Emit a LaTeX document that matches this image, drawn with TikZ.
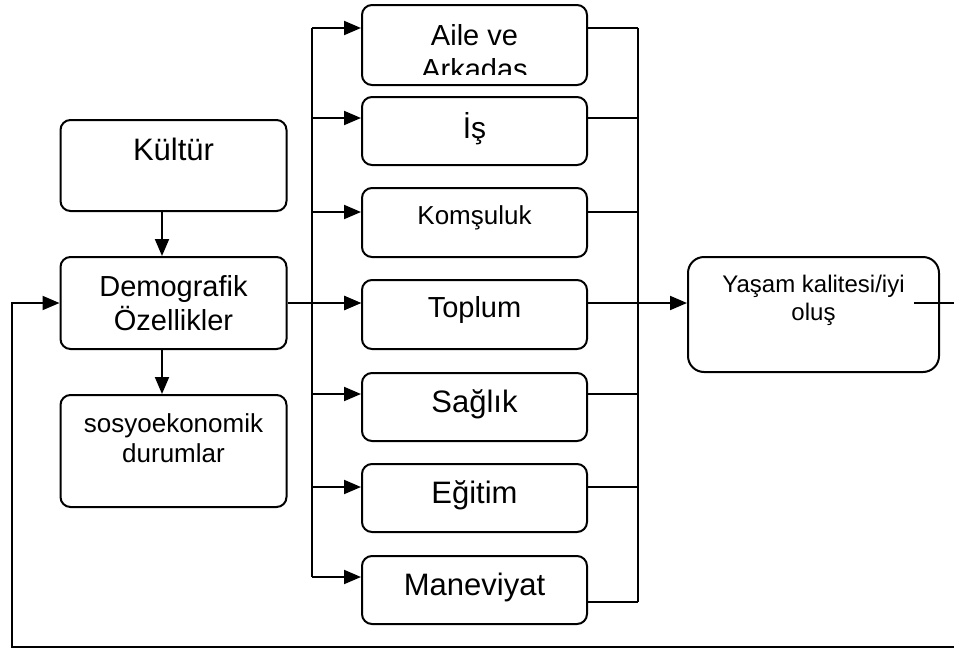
\documentclass[tikz,border=0pt]{standalone}
\usepackage{fontspec}
\setmainfont{Liberation Sans}
\usetikzlibrary{arrows.meta,calc}
\tikzset{
  box/.style={draw, line width=2pt, rounded corners=10pt, inner sep=0pt, align=center},
  line/.style={line width=2pt},
  arr/.style={line width=2pt, -{Triangle[length=17pt,width=14pt]}}
}
\begin{document}
\begin{tikzpicture}[x=1pt,y=-1pt]
\useasboundingbox (0,0) rectangle (954,651);
% left column
\node[box, minimum width=226pt, minimum height=91pt, text height=0pt, text depth=11pt, font=\fontsize{31}{34}\selectfont] (kultur) at (173.5,165.5) {Kültür};
\node[box, minimum width=226pt, minimum height=92pt, text height=54pt, text depth=0pt, font=\fontsize{29}{34}\selectfont] (demo) at (173.5,303) {Demografik\\Özellikler};
\node[box, minimum width=226pt, minimum height=112pt, text height=22pt, text depth=0pt, font=\fontsize{26}{30}\selectfont] (sosyo) at (173.5,451) {sosyoekonomik\\durumlar};
% middle column
\node[box, minimum width=225pt, minimum height=80pt, text height=68pt, text depth=0pt, font=\fontsize{29}{34}\selectfont] (aile) at (474.5,45) {Aile ve\\Arkadas};
\fill[white] (415,75) rectangle (535,83.5);
\node[box, minimum width=225pt, minimum height=68pt, text height=14pt, text depth=0pt, font=\fontsize{30}{34}\selectfont] (is) at (474.5,131) {İş};
\node[box, minimum width=225pt, minimum height=69pt, text height=3pt, text depth=0pt, font=\fontsize{26}{30}\selectfont] (kom) at (474.5,222.5) {Komşuluk};
\node[box, minimum width=225pt, minimum height=69pt, text height=5pt, text depth=0pt, font=\fontsize{29}{34}\selectfont] (top) at (474.5,314.5) {Toplum};
\node[box, minimum width=225pt, minimum height=68pt, text height=10pt, text depth=0pt, font=\fontsize{31}{34}\selectfont] (sag) at (474.5,407) {Sağlık};
\node[box, minimum width=225pt, minimum height=68pt, text height=10pt, text depth=0pt, font=\fontsize{31}{34}\selectfont] (egi) at (474.5,498) {Eğitim};
\node[box, minimum width=225pt, minimum height=68pt, text height=10pt, text depth=0pt, font=\fontsize{31}{34}\selectfont] (man) at (474.5,590) {Maneviyat};
% right box
\node[box, rounded corners=16pt, minimum width=251pt, minimum height=115pt, text height=11pt, text depth=0pt, font=\fontsize{24}{28}\selectfont] (yasam) at (813.5,314.5) {Yaşam kalitesi/iyi\\oluş};
% vertical arrows
\coordinate (ax) at (162,0);
\draw[arr] (kultur.south -| ax) -- (demo.north -| ax);
\draw[arr] (demo.south -| ax) -- (sosyo.north -| ax);
% buses
\coordinate (busL) at (312,0);
\coordinate (busR) at (638,0);
\draw[line] (busL |- 0,28) -- (busL |- 0,577);
\draw[line] (busR |- 0,28) -- (busR |- 0,602);
\foreach \n/\yi/\yo in {aile/28/28, is/118/118, kom/212/212, sag/394/394, egi/487/487, man/577/602} {
  \draw[arr] (busL |- 0,\yi) -- (\n.west |- 0,\yi);
  \draw[line] (\n.east |- 0,\yo) -- (busR |- 0,\yo);
}
\draw[arr] (busL |- 0,303) -- (top.west |- 0,303);
\draw[arr] (demo.east) -- (top.west |- demo.east);
\draw[arr] (top.east |- 0,303) -- (yasam.west |- 0,303);
% stub and feedback
\coordinate (stubR) at (954,303);
\draw[line] ([xshift=-26pt]yasam.east |- stubR) -- (stubR);
\coordinate (fbR) at (954,647);
\coordinate (fbL) at (12,647);
\draw[arr] (fbR) -- (fbL) |- (demo.west);
\end{tikzpicture}
\end{document}
